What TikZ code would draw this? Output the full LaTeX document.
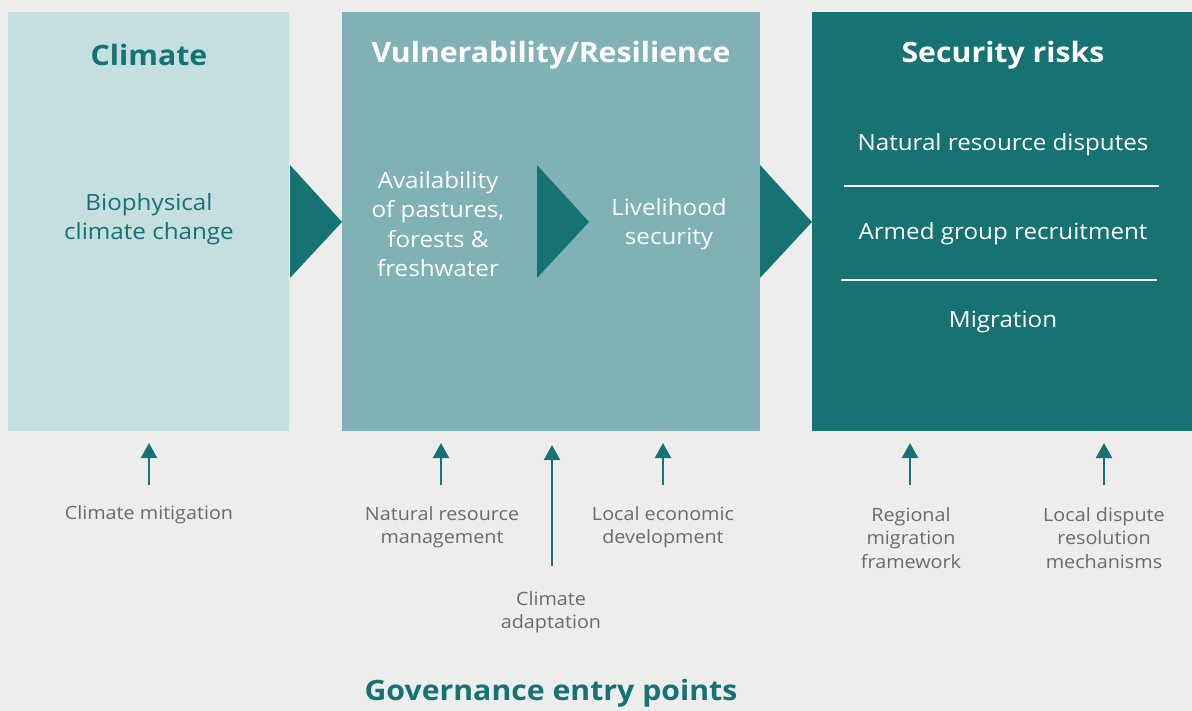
\documentclass[tikz,border=0pt]{standalone}
\usepackage{fontspec}
\setmainfont{Open Sans}[FakeStretch=1.08]
\usetikzlibrary{arrows.meta}
\definecolor{bgc}{HTML}{EDEDED}
\definecolor{boxa}{HTML}{C5DEDF}
\definecolor{boxb}{HTML}{80B1B4}
\definecolor{teal}{HTML}{177274}
\definecolor{lbl}{HTML}{6B6B6B}
\tikzset{
  panel/.style={draw=none,inner sep=0pt,anchor=north west},
  ttl/.style={font=\fontsize{28}{32}\selectfont\bfseries,inner sep=0pt},
  body/.style={font=\fontsize{22.4}{29.5}\selectfont,align=center,inner sep=0pt},
  lab/.style={font=\fontsize{18.3}{23.5}\selectfont,align=center,text=lbl,inner sep=0pt},
  chev/.style={fill=teal,draw=none},
  entry/.style={draw=teal,line width=2pt,-{Triangle[width=16pt,length=15pt]}},
  sep/.style={draw=white,line width=1.5pt}
}
\begin{document}
\begin{tikzpicture}[x=1pt,y=-1pt]
\fill[bgc] (0,0) rectangle (1192,711);
\useasboundingbox (0,0) rectangle (1192,711);
% panels
\node[panel,fill=boxa,minimum width=281pt,minimum height=419pt] (p1) at (8,12) {};
\node[panel,fill=boxb,minimum width=418pt,minimum height=419pt] (p2) at (342,12) {};
\node[panel,fill=teal,minimum width=380pt,minimum height=419pt] (p3) at (812,12) {};
% chevrons
\fill[chev] (290,165) -- (342,222) -- (290,278) -- cycle;
\fill[chev] (537,165) -- (589,222) -- (537,278) -- cycle;
\fill[chev] (760,165) -- (812,222) -- (760,278) -- cycle;
% titles
\node[ttl,text=teal] (t1) at (149,55) {Climate};
\node[ttl,text=white] (t2) at (551,55) {Vulnerability/Resilience};
\node[ttl,text=white] (t3) at (1003,55) {Security risks};
% contents
\node[body,text=teal] (c1) at (149,219) {Biophysical\\climate change};
\node[body,text=white] (c2) at (438,224) {Availability\\of pastures,\\forests \&\\freshwater};
\node[body,text=white] (c3) at (669,224) {Livelihood\\security};
\node[body,text=white] (r1) at (1003,145) {Natural resource disputes};
\node[body,text=white] (r2) at (1003,234) {Armed group recruitment};
\node[body,text=white] (r3) at (1003,322) {Migration};
\coordinate (s1a) at (844,186); \coordinate (s1b) at (1159,186);
\coordinate (s2a) at (841,280); \coordinate (s2b) at (1157,280);
\draw[sep] (s1a) -- (s1b);
\draw[sep] (s2a) -- (s2b);
% entry point labels
\node[lab] (l1) at (149,515) {Climate mitigation};
\node[lab] (l2) at (442,527) {Natural resource\\management};
\node[lab] (l3) at (551,612) {Climate\\adaptation};
\node[lab] (l4) at (663,527) {Local economic\\development};
\node[lab] (l5) at (911,538) {Regional\\migration\\framework};
\node[lab] (l6) at (1104,538) {Local dispute\\resolution\\mechanisms};
% arrow tips
\coordinate (a1) at (149,443); \coordinate (b1) at (149,485);
\coordinate (a2) at (441,443); \coordinate (b2) at (441,485);
\coordinate (a3) at (552,445); \coordinate (b3) at (552,566);
\coordinate (a4) at (663,443); \coordinate (b4) at (663,485);
\coordinate (a5) at (910,443); \coordinate (b5) at (910,485);
\coordinate (a6) at (1104,443); \coordinate (b6) at (1104,485);
\foreach \i in {1,...,6} \draw[entry] (b\i) -- (a\i);
\node[ttl,text=teal] (gov) at (551,693) {Governance entry points};
\end{tikzpicture}
\end{document}
